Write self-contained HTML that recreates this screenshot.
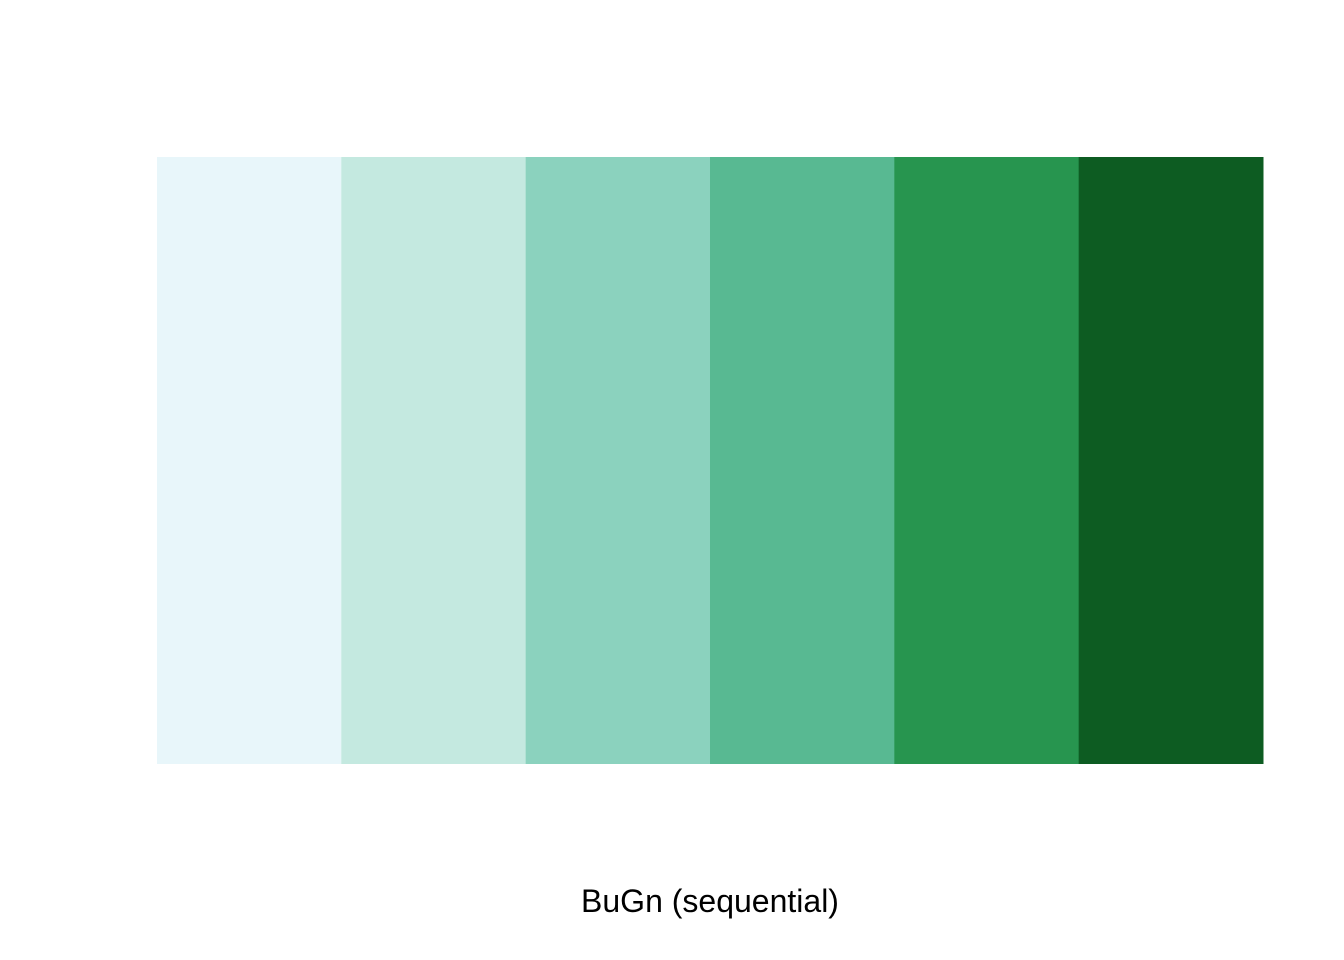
<!DOCTYPE html>
<html>
<head>
<meta charset="utf-8">
<style>
  html, body { margin: 0; padding: 0; background: #ffffff; }
  svg { display: block; }
  text { font-family: "Liberation Sans", Arial, sans-serif; }
</style>
</head>
<body>
<svg id="chart" width="1344" height="960" viewBox="0 0 1344 960">
  <g id="swatches"></g>
  <text x="710" y="912" font-size="32" text-anchor="middle" fill="#000">BuGn (sequential)</text>
</svg>
<script>
const categories = [1, 2, 3, 4, 5, 6];
const colors = ["#E8F6FA", "#C4E9E0", "#8BD2BE", "#58B992", "#27954F", "#0D5C22"];
const values = [1, 1, 1, 1, 1, 1];

const plotLeft = 157, plotRight = 1263, plotTop = 157, plotBottom = 764;
const n = categories.length;
const bandW = (plotRight - plotLeft) / n;
function xScale(i) { return plotLeft + i * bandW; }
const maxV = Math.max(...values);
function yScale(v) { return plotBottom - (v / maxV) * (plotBottom - plotTop); }

const g = document.getElementById('swatches');
categories.forEach((c, i) => {
  const r = document.createElementNS('http://www.w3.org/2000/svg', 'rect');
  const x0 = xScale(i), x1 = xScale(i + 1);
  r.setAttribute('x', x0);
  r.setAttribute('y', yScale(values[i]));
  r.setAttribute('width', x1 - x0 + 0.5);
  r.setAttribute('height', plotBottom - yScale(values[i]));
  r.setAttribute('fill', colors[i]);
  
  
  g.appendChild(r);
});
</script>
</body>
</html>
